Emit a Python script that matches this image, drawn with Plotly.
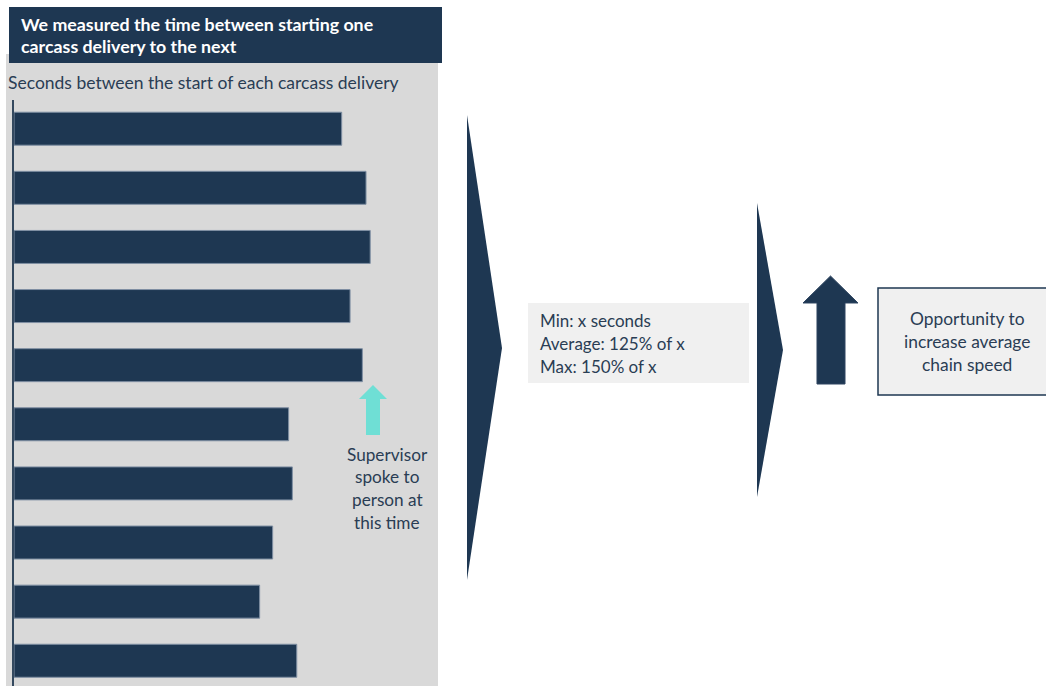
import plotly.graph_objects as go

# Gap between the start of consecutive carcass deliveries, as % of the shortest gap
deliveries = list(range(1, 11))
gap_pct = [133.4, 143.3, 145.0, 136.8, 141.8, 111.8, 113.3, 105.3, 100.0, 115.1]

title_lines = ["We measured the time between starting one", "carcass delivery to the next"]
subtitle = "Seconds between the start of each carcass delivery"
note_lines = ["Supervisor", "spoke to", "person at", "this time"]
stats_lines = ["Min: x seconds", "Average: 125% of x", "Max: 150% of x"]
outcome_lines = ["Opportunity to", "increase average", "chain speed"]

W, H = 1046, 686
NAVY = "#1e3752"
TEXT = "#2a3d54"
FONT = "Lato"


def px(x):
    return x / W


def py(y):
    return 1 - y / H


fig = go.Figure()
fig.add_trace(go.Bar(
    x=gap_pct, y=deliveries, orientation="h", width=0.558,
    marker=dict(color=NAVY, line=dict(color="#7f8fa3", width=1)),
    hoverinfo="x",
))

shapes = []
# grey chart panel and title banner
shapes.append(dict(type="rect", xref="paper", yref="paper", layer="below",
                   x0=px(6), x1=px(438), y0=py(686), y1=py(54),
                   fillcolor="#d9d9d9", line=dict(width=0)))
shapes.append(dict(type="rect", xref="paper", yref="paper",
                   x0=px(9), x1=px(442), y0=py(63), y1=py(7),
                   fillcolor=NAVY, line=dict(width=0)))

# teal up arrow
teal = [(359, 399), (373, 385), (387, 399), (380, 399), (380, 435), (366, 435), (366, 399)]
# chevrons
chev1 = [(467, 115), (502, 348), (467, 580)]
chev2 = [(757, 203), (783, 350), (757, 497)]
# navy up arrow
navy_arrow = [(803, 303), (830.5, 276), (858, 303), (845, 303), (845, 384), (817, 384), (817, 303)]


def poly(pts):
    return "M " + " L ".join(f"{px(x):.5f},{py(y):.5f}" for x, y in pts) + " Z"


shapes.append(dict(type="path", xref="paper", yref="paper", path=poly(teal),
                   fillcolor="#6fdfd5", line=dict(width=0)))
shapes.append(dict(type="path", xref="paper", yref="paper", path=poly(chev1),
                   fillcolor=NAVY, line=dict(width=0)))
shapes.append(dict(type="path", xref="paper", yref="paper", path=poly(chev2),
                   fillcolor=NAVY, line=dict(width=0)))
shapes.append(dict(type="path", xref="paper", yref="paper", path=poly(navy_arrow),
                   fillcolor=NAVY, line=dict(color="#2e4560", width=1)))

# text boxes
shapes.append(dict(type="rect", xref="paper", yref="paper",
                   x0=px(528), x1=px(749), y0=py(383), y1=py(303),
                   fillcolor="#f0f0f0", line=dict(width=0)))
shapes.append(dict(type="rect", xref="paper", yref="paper",
                   x0=px(878), x1=px(1052), y0=py(395), y1=py(288),
                   fillcolor="#f0f0f0", line=dict(color=NAVY, width=1.5)))

annotations = []


def label(text, x, y, size, color=TEXT, xanchor="left", bold=False):
    if bold:
        text = f"<b>{text}</b>"
    annotations.append(dict(text=text, x=px(x), y=py(y), xref="paper", yref="paper",
                            xanchor=xanchor, yanchor="middle", showarrow=False,
                            font=dict(family=FONT, size=size, color=color)))


for i, t in enumerate(title_lines):
    label(t, 19, 24 + i * 22.5, 17.8, color="white", bold=True)
label(subtitle, 6, 83, 17.5)
for i, t in enumerate(note_lines):
    label(t, 387, 454 + i * 22.7, 17.2, xanchor="center")
for i, t in enumerate(stats_lines):
    label(t, 538, 320 + i * 23, 17)
for i, t in enumerate(outcome_lines):
    label(t, 967, 319 + i * 22.5, 17.4, xanchor="center")

fig.update_layout(
    width=W, height=H,
    margin=dict(l=0, r=0, t=0, b=0),
    paper_bgcolor="white", plot_bgcolor="rgba(0,0,0,0)",
    showlegend=False,
    shapes=shapes, annotations=annotations,
    xaxis=dict(domain=[px(14), px(438)], range=[0, 172.6], visible=False),
    yaxis=dict(domain=[0, py(100)], range=[10.427, 0.5145],
               showline=True, linecolor="#34495f", linewidth=1.5,
               showticklabels=False, ticks="", showgrid=False, zeroline=False),
)

fig.write_html("out.html")
